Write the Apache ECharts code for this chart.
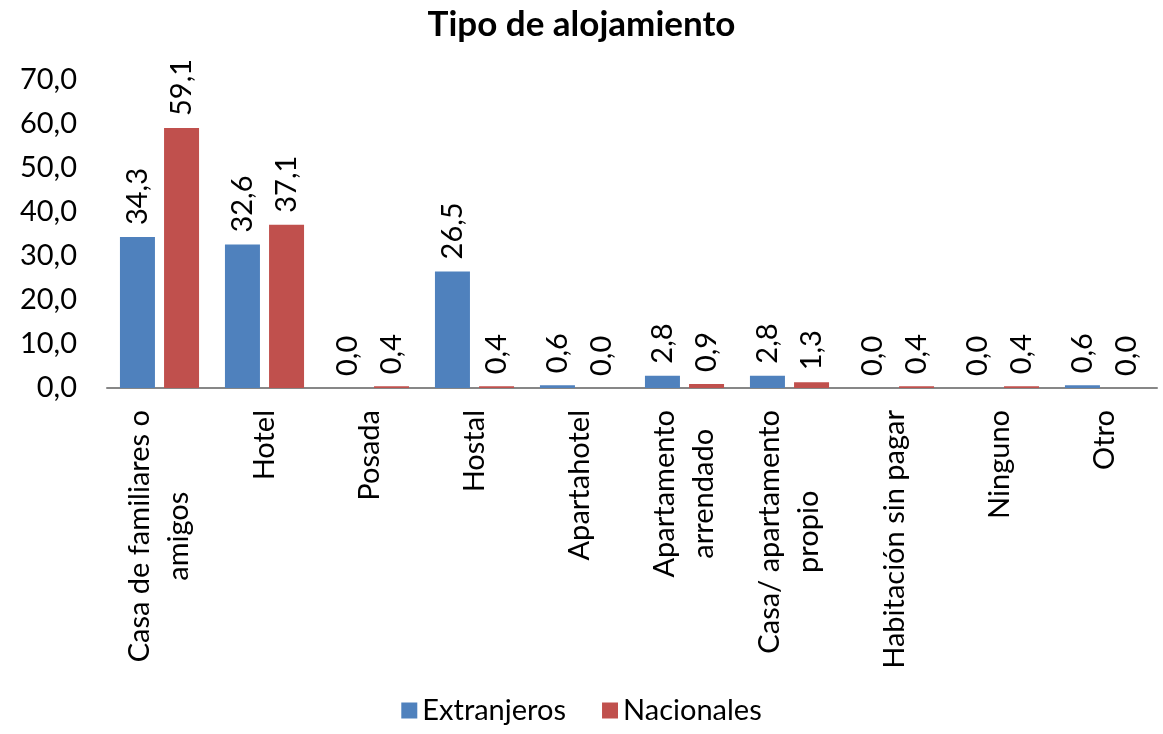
<!DOCTYPE html>
<html>
<head>
<meta charset="utf-8">
<script src="https://cdn.jsdelivr.net/npm/echarts@6/dist/echarts.min.js"></script>
<style>
  html, body { margin: 0; padding: 0; background: #fff; }
  #chart { width: 1163px; height: 734px; }
</style>
</head>
<body>
<div id="chart"></div>
<script>
var categories = [
  'Casa de familiares o\namigos',
  'Hotel',
  'Posada',
  'Hostal',
  'Apartahotel',
  'Apartamento\narrendado',
  'Casa/ apartamento\npropio',
  'Habitación sin pagar',
  'Ninguno',
  'Otro'
];
var extranjeros = [34.3, 32.6, 0.0, 26.5, 0.6, 2.8, 2.8, 0.0, 0.0, 0.6];
var nacionales = [59.1, 37.1, 0.4, 0.4, 0.0, 0.9, 1.3, 0.4, 0.4, 0.0];

var font = 'Lato, "Open Sans", sans-serif';

function fmt(v) {
  return Number(v).toFixed(1).replace('.', ',');
}

var barLabel = {
  show: true,
  position: 'top',
  rotate: 90,
  align: 'left',
  verticalAlign: 'middle',
  distance: 12,
  fontFamily: font,
  fontSize: 29,
  color: '#000',
  formatter: function (p) { return fmt(p.value); }
};

var option = {
  animation: false,
  title: {
    text: 'Tipo de alojamiento',
    left: 'center',
    top: 2,
    textStyle: { fontFamily: font, fontSize: 35, fontWeight: 'bold', color: '#000' }
  },
  legend: {
    bottom: 4,
    left: 'center',
    itemWidth: 16,
    itemHeight: 16,
    itemGap: 36,
    icon: 'rect',
    textStyle: { fontFamily: font, fontSize: 29, color: '#000' },
    data: ['Extranjeros', 'Nacionales']
  },
  grid: { left: 107, right: 6, top: 80, bottom: 346 },
  xAxis: {
    type: 'category',
    data: categories,
    axisLine: { lineStyle: { color: '#878787', width: 2 } },
    axisTick: { show: false },
    axisLabel: {
      interval: 0,
      rotate: 90,
      margin: 22,
      fontFamily: font,
      fontSize: 29,
      color: '#000',
      lineHeight: 39,
      formatter: function (v) {
        return v.split('\n').map(function (s) { return '{c|' + s + '}'; }).join('\n');
      },
      rich: {
        c: { align: 'center', fontFamily: font, fontSize: 29, color: '#000', lineHeight: 39 }
      }
    }
  },
  yAxis: {
    type: 'value',
    min: 0,
    max: 70,
    interval: 10,
    axisLine: { show: false },
    axisTick: { show: false },
    splitLine: { show: false },
    axisLabel: {
      margin: 30,
      fontFamily: font,
      fontSize: 29,
      color: '#000',
      formatter: function (v) { return fmt(v); }
    }
  },
  series: [
    {
      name: 'Extranjeros',
      type: 'bar',
      data: extranjeros,
      barWidth: 35,
      barGap: '26%',
      itemStyle: { color: '#4F81BD' },
      label: barLabel
    },
    {
      name: 'Nacionales',
      type: 'bar',
      data: nacionales,
      barWidth: 35,
      itemStyle: { color: '#C0504D' },
      label: barLabel
    }
  ]
};

var chartDom = document.getElementById('chart');
var myChart = echarts.init(chartDom);
option && myChart.setOption(option);
</script>
</body>
</html>
